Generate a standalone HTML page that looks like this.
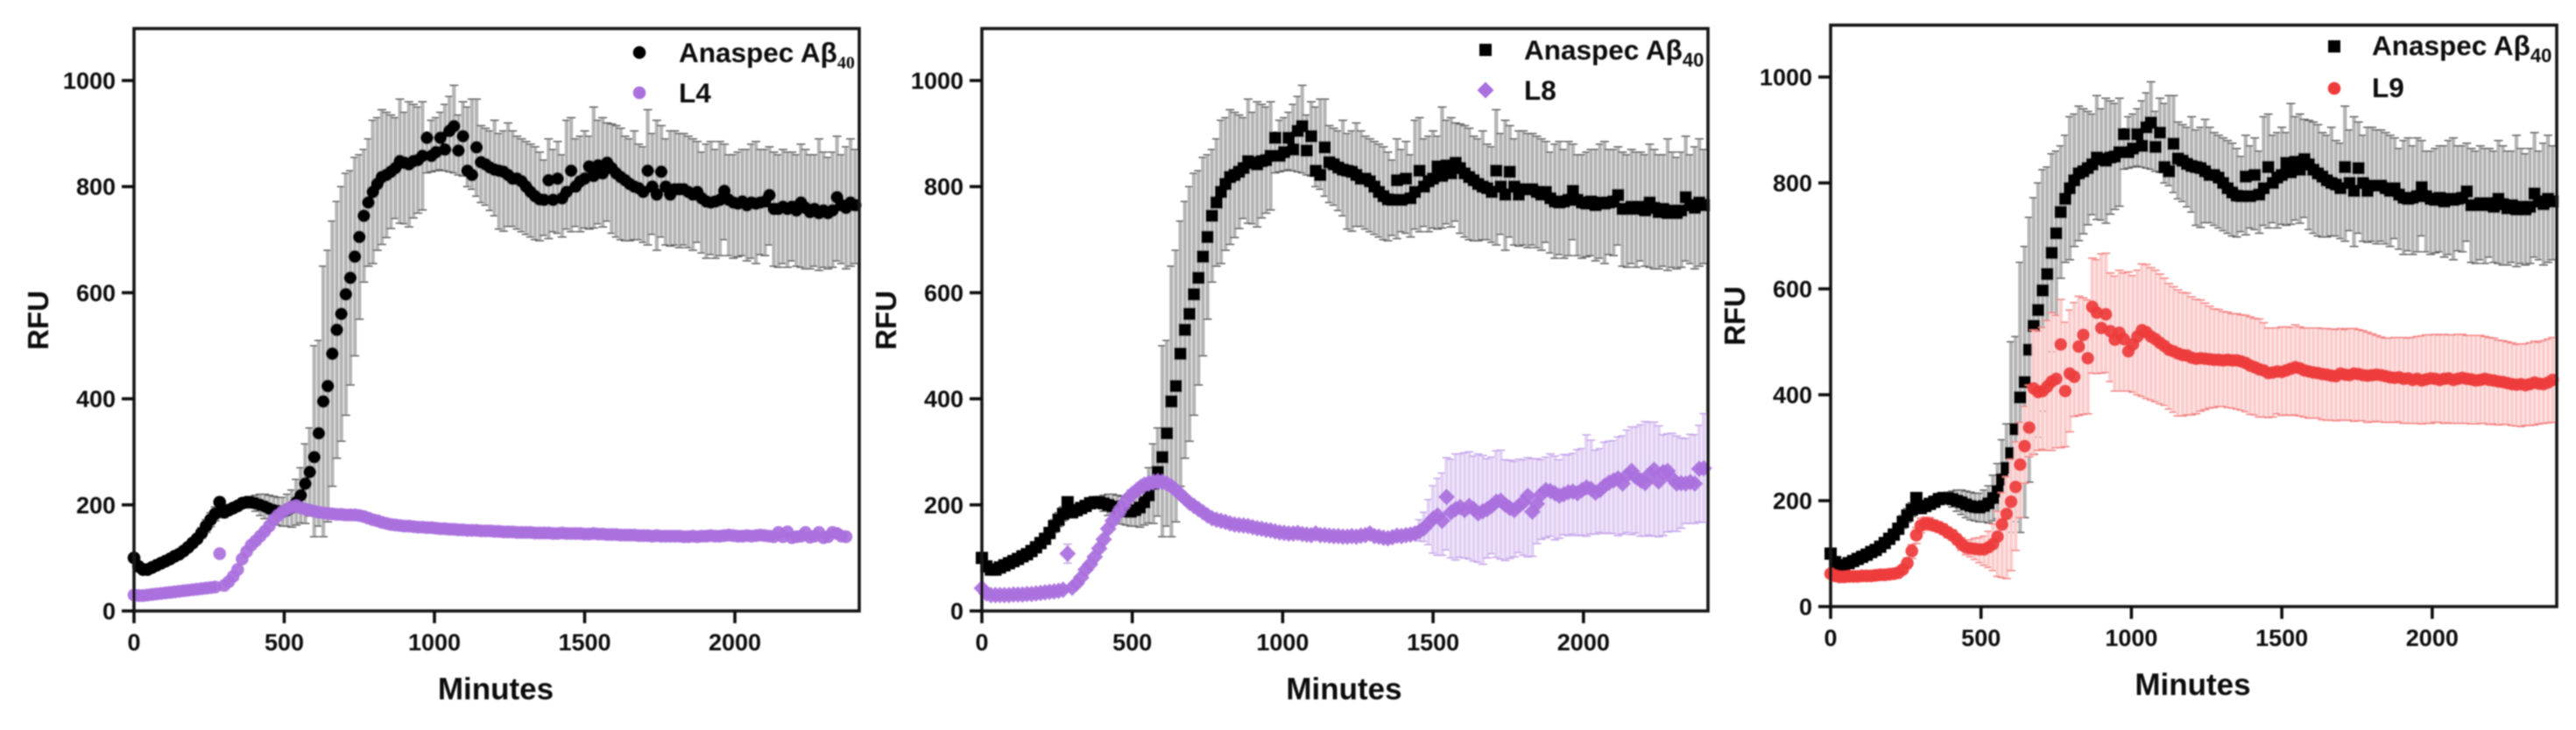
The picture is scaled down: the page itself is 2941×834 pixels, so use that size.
<!DOCTYPE html>
<html lang="en">
<head>
<meta charset="utf-8">
<title>Thioflavin fluorescence kinetics: Anaspec Aβ40 with L4, L8 and L9</title>
<style>
html,body{margin:0;padding:0;background:#fff;width:2941px;height:834px;overflow:hidden}
svg{display:block}
text{font-family:"Liberation Sans",sans-serif;font-weight:bold;fill:#111}
</style>
</head>
<body>
<svg id="figure" xmlns="http://www.w3.org/2000/svg" width="2941" height="834" viewBox="0 0 2941 834">
<defs>
<filter id="soft" filterUnits="userSpaceOnUse" x="0" y="0" width="2941" height="834"><feGaussianBlur stdDeviation="0.8"/></filter>
</defs>
<rect width="2941" height="834" fill="#fff"/>
<g id="root" filter="url(#soft)"></g>
</svg>
<script>
const minutes = [0,15,30,45,60,75,90,105,120,135,150,165,180,195,210,225,240,255,270,285,300,315,330,345,360,375,390,405,420,435,450,465,480,495,510,525,540,555,570,585,600,615,630,645,660,675,690,705,720,735,750,765,780,795,810,825,840,855,870,885,900,915,930,945,960,975,990,1005,1020,1035,1050,1065,1080,1095,1110,1125,1140,1155,1170,1185,1200,1215,1230,1245,1260,1275,1290,1305,1320,1335,1350,1365,1380,1395,1410,1425,1440,1455,1470,1485,1500,1515,1530,1545,1560,1575,1590,1605,1620,1635,1650,1665,1680,1695,1710,1725,1740,1755,1770,1785,1800,1815,1830,1845,1860,1875,1890,1905,1920,1935,1950,1965,1980,1995,2010,2025,2040,2055,2070,2085,2100,2115,2130,2145,2160,2175,2190,2205,2220,2235,2250,2265,2280,2295,2310,2325,2340,2355,2370,2385,2400];

const anaspecMean = [100,84,78,78,82,86,90,94,98,103,107,113,120,128,136,147,160,172,183,205,186,190,194,198,203,205,205,203,200,197,193,190,188,187,190,195,205,218,240,262,290,335,395,424,485,530,560,597,628,668,705,745,770,790,805,818,822,828,835,848,845,842,848,850,858,892,858,865,892,870,905,914,868,895,830,822,874,846,842,836,832,830,828,822,815,815,810,800,790,782,776,775,812,775,815,778,790,830,800,810,815,838,820,840,825,845,835,825,818,812,805,800,797,790,830,800,785,828,800,785,795,795,795,790,785,790,778,772,770,772,775,792,775,770,768,772,765,770,768,770,772,784,758,758,762,758,762,755,770,760,752,758,750,755,750,755,780,765,760,770,765];

const anaspecUpper = [105,90,84,84,88,92,96,100,104,109,113,120,127,136,145,157,172,185,196,214,196,198,202,206,211,214,216,218,220,220,218,216,214,214,220,228,248,270,315,345,500,510,650,680,735,772,800,825,830,855,860,870,890,925,930,945,940,935,930,965,940,960,955,950,960,900,925,930,940,955,970,991,935,960,950,965,965,915,910,905,925,900,905,920,905,895,890,885,880,875,865,850,890,870,885,860,925,930,890,895,905,895,950,925,930,920,918,915,910,895,890,905,880,875,945,900,925,915,890,905,905,900,900,895,890,885,865,880,885,870,885,880,860,860,865,870,870,880,885,870,870,875,865,860,870,865,865,860,880,870,860,860,890,865,855,865,895,860,875,890,870];

const anaspecLower = [95,78,72,72,76,80,84,88,92,97,101,106,113,120,127,137,148,159,170,196,176,182,186,190,195,196,194,188,180,174,168,164,162,160,160,158,162,166,165,179,140,160,140,168,235,288,320,369,426,481,550,620,650,655,680,691,704,721,740,731,730,724,741,750,756,826,828,830,832,830,828,826,822,820,800,795,782,770,765,755,745,720,716,725,725,720,715,710,705,700,698,708,702,715,712,705,720,715,725,715,722,720,722,730,724,735,712,705,700,698,698,700,700,695,690,710,680,705,690,688,690,685,690,685,680,695,675,665,672,665,670,700,670,665,668,670,660,665,655,672,670,690,650,648,655,648,660,650,648,645,645,650,642,648,645,648,660,655,645,650,655];

const l4Mean = [30,29,29,30,31,32,33,34,35,36,37,38,39,40,41,42,43,44,45,108,48,55,65,78,98,112,124,132,141,150,160,172,180,187,192,196,198,194,192,190,188,186,185,184,183,182,182,181,181,181,180,178,175,172,170,167,165,163,162,161,160,160,159,158,158,157,157,156,155,155,154,154,153,153,152,152,152,151,151,151,150,150,149,149,149,148,148,148,148,147,147,147,147,146,146,147,146,146,146,146,145,145,146,145,145,144,144,144,143,143,143,143,142,142,142,141,142,141,141,141,141,141,140,140,141,140,141,141,142,141,141,142,143,142,141,141,142,141,142,143,142,141,140,148,140,149,138,140,141,148,139,141,148,138,140,148,146,141,140];

const l8Mean = [43,33,30,30,30,30,30,31,31,31,32,32,33,34,35,36,37,38,40,108,44,52,63,78,88,102,118,135,155,170,182,195,208,218,225,232,238,241,243,244,243,240,235,228,220,212,204,198,192,186,180,175,172,170,168,165,163,162,161,160,158,156,155,153,152,150,148,147,146,146,147,145,144,143,146,143,143,142,141,141,140,140,141,140,142,143,146,141,140,138,137,139,142,141,143,144,146,150,156,165,174,180,170,215,186,192,196,190,198,192,184,188,192,198,206,208,200,194,190,198,205,217,187,202,220,228,226,222,217,220,224,225,222,228,233,230,223,228,236,242,246,250,240,256,264,252,246,241,258,266,244,262,264,250,240,241,240,243,240,268,269];

const l8ErrorUp = [5,5,5,5,5,5,5,5,5,5,5,5,5,5,5,5,5,5,5,18,5,5,6,6,6,7,8,8,8,9,9,9,10,10,10,10,10,10,10,10,10,9,9,8,6,6,6,6,6,6,6,6,6,6,6,6,6,6,6,6,6,6,6,6,6,6,6,6,6,6,5,5,5,5,5,5,5,5,5,5,5,5,5,5,5,5,5,5,5,5,5,5,5,5,5,5,10,22,30,45,62,70,90,74,100,104,100,108,102,100,112,105,95,92,96,95,85,90,92,88,80,72,100,85,65,62,70,70,68,75,70,72,82,78,99,92,80,78,82,78,75,78,90,85,83,95,105,116,98,90,105,70,70,85,90,85,85,90,92,82,103];

const l8ErrorDown = [5,5,5,5,5,5,5,5,5,5,5,5,5,5,5,5,5,5,5,18,5,5,6,6,6,7,8,8,8,9,9,9,10,10,10,10,10,10,10,10,10,9,9,8,6,6,6,6,6,6,6,6,6,6,6,6,6,6,6,6,6,6,6,6,6,6,6,6,6,6,5,5,5,5,5,5,5,5,5,5,5,5,5,5,5,5,5,5,5,5,5,5,5,5,5,5,10,18,25,40,65,75,65,100,86,96,95,90,100,98,92,100,92,90,105,110,105,95,88,88,100,115,84,75,85,90,85,88,80,76,82,80,80,85,92,85,78,80,90,95,100,108,95,108,120,105,105,100,115,125,104,120,115,100,90,85,75,78,75,100,102];

const l9Mean = [62,58,56,56,57,57,57,58,58,58,59,60,60,61,62,64,70,82,105,135,153,157,156,153,150,146,140,135,127,118,112,110,109,108,108,112,118,132,155,175,198,226,268,303,338,412,405,407,415,425,430,495,407,440,434,491,513,469,566,555,526,552,520,504,517,505,482,495,510,522,518,510,505,498,492,485,482,478,475,474,470,468,469,468,467,466,466,465,466,465,465,463,460,455,452,448,446,441,442,444,443,446,449,452,450,446,444,442,441,439,438,436,435,440,438,437,440,439,437,436,437,438,437,435,433,432,433,430,431,428,430,427,429,431,430,428,430,431,428,430,432,430,429,427,428,430,428,427,425,424,422,420,419,420,418,420,423,421,420,423,428];

const l9ErrorUp = [4,4,4,4,4,4,4,4,4,4,4,4,4,4,4,4,4,10,12,14,14,12,12,10,10,10,10,10,10,12,14,16,20,22,25,30,38,48,60,70,80,85,80,75,80,110,115,120,125,130,120,85,130,120,140,95,70,110,92,100,140,115,110,120,118,125,150,130,125,125,128,130,130,130,128,125,122,120,118,118,115,112,110,105,100,96,95,92,90,88,88,88,90,92,92,95,90,85,84,82,85,82,78,80,78,80,82,84,85,86,87,88,88,85,85,88,85,84,84,82,78,74,72,72,74,76,75,78,76,80,80,84,84,82,84,85,84,82,85,84,82,82,83,85,84,80,80,80,78,78,78,78,76,76,78,78,78,78,82,82,80];

const l9ErrorDown = [4,4,4,4,4,4,4,4,4,4,4,4,4,4,4,4,4,10,14,16,14,12,12,10,10,10,10,10,10,12,14,16,20,25,30,38,50,75,100,122,130,120,100,70,55,125,110,110,120,130,130,195,105,110,75,130,150,105,125,115,85,110,95,97,110,98,75,90,110,125,125,120,118,115,112,112,115,118,115,112,108,104,100,96,92,90,88,87,90,90,92,92,92,92,90,90,88,84,84,80,82,84,88,90,90,88,88,86,85,86,86,84,84,88,86,85,90,88,86,88,88,88,88,87,85,84,84,84,85,82,84,82,83,85,82,80,84,84,82,84,86,84,84,82,82,84,84,82,82,80,78,78,78,80,76,78,80,76,74,76,80];

const xTickValues = [0,500,1000,1500,2000];
const yTickValues = [0,200,400,600,800,1000];
const xAxisTitle = 'Minutes';
const yAxisTitle = 'RFU';
const xMaximum = 2414;
const yMaximum = 1098;

const panels = [
  {id:'l4', name:'L4', left:153, right:981, y0:698, y1000:92, black:'circle', marker:'circle', color:'#aa70de', barColor:null, capColor:null, mean:l4Mean, up:null, down:null, legend:{mx:730, my:60, tx:775, b1:71, b2:117, subFont:'"Liberation Serif",serif', subSize:20, subDy:7, size:31.5}},
  {id:'l8', name:'L8', left:1121, right:1950, y0:698, y1000:92, black:'square', marker:'diamond', color:'#aa70de', barColor:'#e2d0f4', capColor:'#c5a4ea', mean:l8Mean, up:l8ErrorUp, down:l8ErrorDown, legend:{mx:1696, my:57, tx:1740, b1:68, b2:114, subFont:'"Liberation Sans",sans-serif', subSize:22, subDy:8, size:31.5}},
  {id:'l9', name:'L9', left:2090, right:2919, y0:693, y1000:88, black:'square', marker:'circle', color:'#ee3b3b', barColor:'#fbcccc', capColor:'#f47f7f', mean:l9Mean, up:l9ErrorUp, down:l9ErrorDown, legend:{mx:2665, my:53, tx:2708, b1:63, b2:111, subFont:'"Liberation Sans",sans-serif', subSize:22, subDy:8, size:31.5}}
];

const NS = 'http://www.w3.org/2000/svg';
const root = document.getElementById('root');

function make(tag, attrs, parent) {
  const el = document.createElementNS(NS, tag);
  for (const k in attrs) el.setAttribute(k, attrs[k]);
  parent.appendChild(el);
  return el;
}

function drawMarker(parent, kind, x, y, fill, opacity) {
  let el;
  if (kind === 'circle') {
    el = make('circle', {cx:x, cy:y, r:7.3, fill:fill, 'fill-opacity':opacity}, parent);
  } else if (kind === 'square') {
    el = make('rect', {x:x-7, y:y-7, width:14, height:14, fill:fill, 'fill-opacity':opacity}, parent);
  } else {
    const pts = [x, y-9.5, x+9.5, y, x, y+9.5, x-9.5, y].join(' ');
    el = make('polygon', {points:pts, fill:fill, 'fill-opacity':opacity}, parent);
  }
  
  
  return el;
}

function drawErrorBar(parent, x, yTop, yBottom, barColor, capColor) {
  const bar = make('line', {x1:x, x2:x, y1:yTop, y2:yBottom, stroke:barColor, 'stroke-width':4.2}, parent);
  
  
  const capTop = make('line', {x1:x-5, x2:x+5, y1:yTop, y2:yTop, stroke:capColor, 'stroke-width':1.5}, parent);
  
  
  const capBottom = make('line', {x1:x-5, x2:x+5, y1:yBottom, y2:yBottom, stroke:capColor, 'stroke-width':1.5}, parent);
  
  
}

function addText(parent, content, attrs) {
  const t = make('text', attrs, parent);
  t.textContent = content;
  return t;
}

panels.forEach(function (p) {
  const xScale = function (v) { return p.left + v * (p.right - p.left) / xMaximum; };
  const yScale = function (v) { return p.y0 - v * (p.y0 - p.y1000) / 1000; };
  const top = yScale(yMaximum);

  const g = make('g', {}, root);
  
  

  const blackBars = make('g', {}, g);
  
  
  minutes.forEach(function (m, i) {
    if (anaspecUpper[i] === undefined || anaspecLower[i] === undefined) return;
    drawErrorBar(blackBars, xScale(m), yScale(anaspecUpper[i]), yScale(anaspecLower[i]), '#b4b4b4', '#5e5e5e');
  });

  const blackPts = make('g', {}, g);
  
  
  minutes.forEach(function (m, i) {
    if (anaspecMean[i] === undefined) return;
    drawMarker(blackPts, p.black, xScale(m), yScale(anaspecMean[i]), '#000', 1);
  });

  if (p.up) {
    const lBars = make('g', {}, g);
    
    
    minutes.forEach(function (m, i) {
      if (p.mean[i] === undefined || p.up[i] === undefined || p.down[i] === undefined) return;
      drawErrorBar(lBars, xScale(m), yScale(p.mean[i] + p.up[i]), yScale(p.mean[i] - p.down[i]), p.barColor, p.capColor);
    });
  }

  const lPts = make('g', {}, g);
  
  
  minutes.forEach(function (m, i) {
    if (p.mean[i] === undefined) return;
    drawMarker(lPts, p.marker, xScale(m), yScale(p.mean[i]), p.color, 0.93);
  });

  const frame = make('rect', {x:p.left, y:top, width:p.right-p.left, height:p.y0-top, fill:'none', stroke:'#161616', 'stroke-width':3.6}, g);
  
  

  xTickValues.forEach(function (v) {
    const x = xScale(v);
    const tick = make('line', {x1:x, x2:x, y1:p.y0, y2:p.y0+14, stroke:'#111', 'stroke-width':3.6}, g);
    
    
    const label = addText(g, String(v), {x:x, y:p.y0+45, 'text-anchor':'middle', 'font-size':27});
    
    
  });

  yTickValues.forEach(function (v) {
    const y = yScale(v);
    const tick = make('line', {x1:p.left-14, x2:p.left, y1:y, y2:y, stroke:'#111', 'stroke-width':3.6}, g);
    
    
    const label = addText(g, String(v), {x:p.left-21, y:y+9.5, 'text-anchor':'end', 'font-size':27});
    
    
  });

  const xTitle = addText(g, xAxisTitle, {x:(p.left+p.right)/2 - 1, y:p.y0+101, 'text-anchor':'middle', 'font-size':35});
  
  

  const yMid = p.y0 - 332;
  const yTitleX = p.left - 98;
  const yTitle = addText(g, yAxisTitle, {x:yTitleX, y:yMid, 'text-anchor':'middle', 'font-size':33, transform:'rotate(-90 ' + yTitleX + ' ' + yMid + ')'});
  
  

  const L = p.legend;
  const legend = make('g', {}, g);
  
  
  drawMarker(legend, p.black, L.mx, L.my, '#000', 1);
  const l1 = make('text', {x:L.tx, y:L.b1, 'font-size':L.size}, legend);
  
  
  l1.appendChild(document.createTextNode('Anaspec Aβ'));
  const sub = make('tspan', {dy:L.subDy, 'font-size':L.subSize, 'font-family':L.subFont}, l1);
  sub.textContent = '40';
  drawMarker(legend, p.marker, L.mx, L.my + (L.b2 - L.b1), p.color, 1);
  const l2 = addText(legend, p.name, {x:L.tx, y:L.b2, 'font-size':L.size});
  
  
});
</script>
</body>
</html>
